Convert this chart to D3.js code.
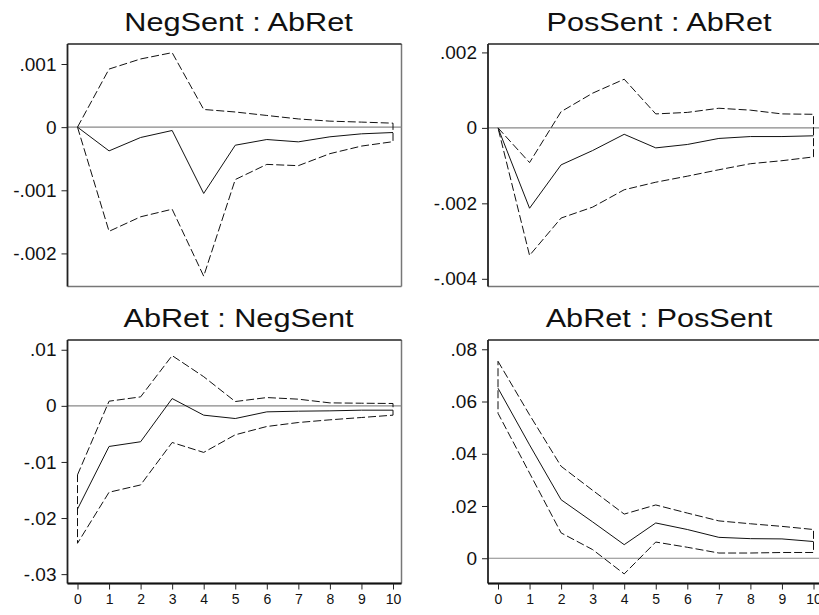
<!DOCTYPE html>
<html>
<head>
<meta charset="utf-8">
<script src="https://cdn.jsdelivr.net/npm/d3@7"></script>
<style>
  body { margin: 0; background: #fff; }
  text { font-family: "Liberation Sans", Arial, sans-serif; fill: #111; }
</style>
</head>
<body>
<div id="chart"></div>
<script>
// horizon steps
var steps = [0, 1, 2, 3, 4, 5, 6, 7, 8, 9, 10];

// NegSent : AbRet
var negAbIrf = [0, -0.000376, -0.000164, -0.000053, -0.00105, -0.000286, -0.000196, -0.000233, -0.000153, -0.000106, -0.000085];
var negAbHi  = [0, 0.00092, 0.00108, 0.00118, 0.00028, 0.00024, 0.000185, 0.00013, 0.000095, 0.00008, 0.000063];
var negAbLo  = [0, -0.00165, -0.00142, -0.0013, -0.00236, -0.00083, -0.00059, -0.00061, -0.00042, -0.0003, -0.00023];

// PosSent : AbRet
var posAbIrf = [0, -0.00213, -0.00098, -0.0006, -0.00017, -0.00053, -0.00044, -0.00028, -0.00023, -0.00023, -0.00021];
var posAbHi  = [0, -0.00092, 0.00043, 0.00092, 0.00129, 0.00037, 0.00041, 0.00052, 0.00047, 0.00037, 0.00036];
var posAbLo  = [0, -0.00338, -0.00239, -0.0021, -0.00164, -0.00144, -0.00128, -0.00111, -0.00095, -0.00087, -0.00077];

// AbRet : NegSent
var abNegIrf = [-0.0184, -0.00724, -0.0064, 0.0013, -0.00166, -0.00226, -0.00107, -0.00095, -0.00089, -0.00077, -0.00077];
var abNegHi  = [-0.0123, 0.00083, 0.0016, 0.00896, 0.0052, 0.00077, 0.00148, 0.00119, 0.00053, 0.00047, 0.00042];
var abNegLo  = [-0.0245, -0.0154, -0.0141, -0.00653, -0.0083, -0.00516, -0.00368, -0.00297, -0.00249, -0.00208, -0.00166];

// AbRet : PosSent
var abPosIrf = [0.0651, 0.0434, 0.0224, 0.0139, 0.0052, 0.0135, 0.011, 0.008, 0.0075, 0.0074, 0.0064];
var abPosHi  = [0.0754, 0.0549, 0.0352, 0.026, 0.0169, 0.0204, 0.0173, 0.0143, 0.0132, 0.0122, 0.011];
var abPosLo  = [0.0555, 0.0326, 0.0097, 0.0033, -0.006, 0.0062, 0.0042, 0.002, 0.002, 0.0022, 0.0022];

// y tick labels
var negAbTicks = [0.001, 0, -0.001, -0.002];
var posAbTicks = [0.002, 0, -0.002, -0.004];
var abNegTicks = [0.01, 0, -0.01, -0.02, -0.03];
var abPosTicks = [0.08, 0.06, 0.04, 0.02, 0];

var W = 819, H = 615;
var svg = d3.select("#chart").append("svg")
    .attr("width", W)
    .attr("height", H);

var panels = [
    {title: "NegSent : AbRet", irf: negAbIrf, hi: negAbHi, lo: negAbLo, ticks: negAbTicks,
     yDom: [-0.002524, 0.001317], left: 67.5, right: 401.5, top: 44, bottom: 286.5, xAxis: false},
    {title: "PosSent : AbRet", irf: posAbIrf, hi: posAbHi, lo: posAbLo, ticks: posAbTicks,
     yDom: [-0.004204, 0.002223], left: 488, right: 822, top: 44, bottom: 286.5, xAxis: false},
    {title: "AbRet : NegSent", irf: abNegIrf, hi: abNegHi, lo: abNegLo, ticks: abNegTicks,
     yDom: [-0.03167, 0.01174], left: 67.5, right: 401.5, top: 340, bottom: 583.5, xAxis: true},
    {title: "AbRet : PosSent", irf: abPosIrf, hi: abPosHi, lo: abPosLo, ticks: abPosTicks,
     yDom: [-0.00967, 0.08355], left: 488, right: 822, top: 340, bottom: 583.5, xAxis: true}
];

// .001 style labels, no leading zero
function fmt(v) {
    return String(v).replace(/^(-?)0\./, "$1.");
}

panels.forEach(function (p) {
    var x = d3.scaleLinear().domain([0, 10]).range([p.left + 10, p.left + 325.5]);
    var y = d3.scaleLinear().domain(p.yDom).range([p.bottom, p.top]);
    var g = svg.append("g");

    var data = steps.map(function (s, i) {
        return {s: s, irf: p.irf[i], hi: p.hi[i], lo: p.lo[i]};
    });

    // title (stretched a bit, like the original)
    var cx = (p.left + p.right) / 2 + 4;
    g.append("text")
        .attr("transform", "translate(" + cx + "," + (p.top - 13.5) + ") scale(1.18,1)")
        .attr("text-anchor", "middle")
        .style("font-size", "26px")
        .text(p.title);

    // frame: right and bottom in grey
    g.append("line").attr("x1", p.right).attr("x2", p.right)
        .attr("y1", p.top).attr("y2", p.bottom)
        .attr("stroke", "#777").attr("stroke-width", 1.5);
    g.append("line").attr("x1", p.left).attr("x2", p.right)
        .attr("y1", p.bottom).attr("y2", p.bottom)
        .attr("stroke", "#777").attr("stroke-width", 1.5);
    g.append("line").attr("x1", p.left).attr("x2", p.right)
        .attr("y1", p.top).attr("y2", p.top)
        .attr("stroke", "#222").attr("stroke-width", 1.5);

    // zero line
    g.append("line")
        .attr("x1", p.left).attr("x2", p.right)
        .attr("y1", y(0)).attr("y2", y(0))
        .attr("stroke", "#888").attr("stroke-width", 1.2);

    // confidence band outline (closed, dashed)
    var band = d3.area()
        .x(function (d) { return x(d.s); })
        .y0(function (d) { return y(d.lo); })
        .y1(function (d) { return y(d.hi); });
    g.append("path")
        .datum(data)
        .attr("d", band)
        .attr("fill", "none")
        .attr("stroke", "#111")
        .attr("stroke-width", 1)
        .attr("stroke-dasharray", "8,3");

    // impulse response
    var line = d3.line()
        .x(function (d) { return x(d.s); })
        .y(function (d) { return y(d.irf); });
    g.append("path")
        .datum(data)
        .attr("d", line)
        .attr("fill", "none")
        .attr("stroke", "#111")
        .attr("stroke-width", 1);

    // y axis
    var yAxis = d3.axisLeft(y)
        .tickValues(p.ticks)
        .tickFormat(fmt)
        .tickSize(6)
        .tickSizeOuter(0)
        .tickPadding(5);
    var ya = g.append("g")
        .attr("transform", "translate(" + p.left + ",0)")
        .call(yAxis);
    ya.select(".domain").attr("stroke", "#222").attr("stroke-width", 1.8)
        .attr("d", "M0," + p.top + "V" + p.bottom);
    ya.selectAll(".tick line").attr("stroke", "#222");
    ya.selectAll(".tick text")
        .style("font-size", "19px")
        .style("font-family", "'Liberation Sans', Arial, sans-serif")
        .attr("fill", "#111");

    if (p.xAxis) {
        var xAxis = d3.axisBottom(x)
            .tickValues(steps)
            .tickFormat(d3.format("d"))
            .tickSize(6)
            .tickSizeOuter(0)
            .tickPadding(5);
        var xa = g.append("g")
            .attr("transform", "translate(0," + p.bottom + ")")
            .call(xAxis);
        xa.select(".domain").attr("stroke", "#111").attr("stroke-width", 2)
            .attr("d", "M" + p.left + ",0H" + p.right);
        xa.selectAll(".tick line").attr("stroke", "#222");
        xa.selectAll(".tick text")
            .style("font-size", "14px")
            .style("font-family", "'Liberation Sans', Arial, sans-serif")
            .attr("fill", "#111");
    }
});
</script>
</body>
</html>
